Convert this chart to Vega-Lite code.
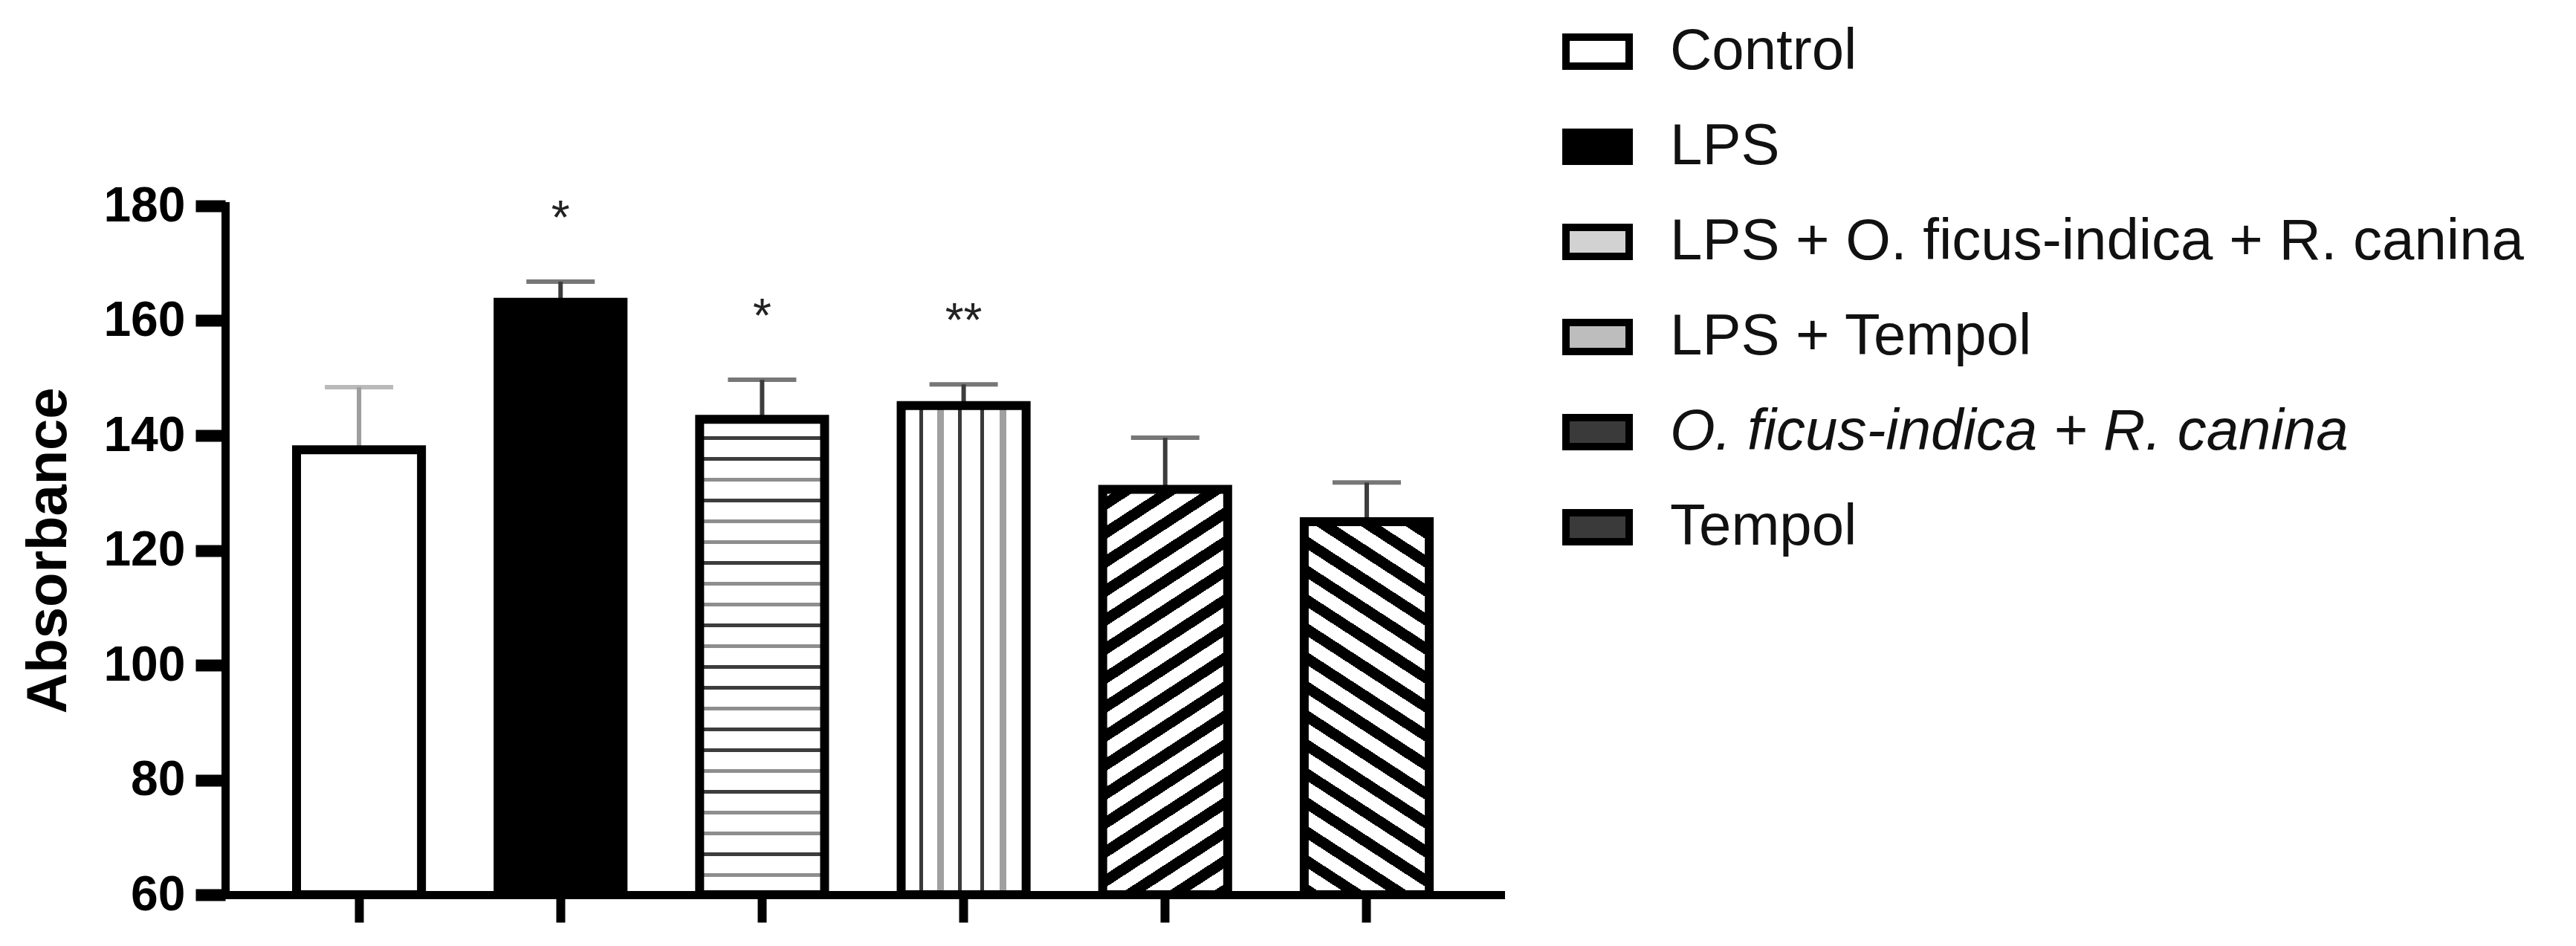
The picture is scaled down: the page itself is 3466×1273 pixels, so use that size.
{
  "$schema": "https://vega.github.io/schema/vega-lite/v6.json",
  "width": 1716,
  "height": 927,
  "autosize": {"type": "none"},
  "padding": {"left": 303, "top": 277, "right": 1447, "bottom": 69},
  "background": "white",
  "config": {"view": {"stroke": null}, "font": "Liberation Sans"},
  "data": {
    "values": [
      {"group": "Control", "mean": 137.5, "upper": 148.4, "sig": ""},
      {"group": "LPS", "mean": 163.2, "upper": 166.8, "sig": "*"},
      {"group": "LPS + O. ficus-indica + R. canina", "mean": 142.8, "upper": 149.7, "sig": "*"},
      {"group": "LPS + Tempol", "mean": 145.2, "upper": 148.9, "sig": "**"},
      {"group": "O. ficus-indica + R. canina", "mean": 130.6, "upper": 139.6, "sig": ""},
      {"group": "Tempol", "mean": 125.0, "upper": 131.8, "sig": ""}
    ]
  },
  "encoding": {
    "x": {
      "field": "group",
      "type": "nominal",
      "sort": null,
      "scale": {"paddingInner": 0.38, "paddingOuter": 0.354},
      "axis": {
        "labels": false,
        "title": null,
        "domainColor": "black",
        "domainWidth": 11,
        "domainCap": "square",
        "tickColor": "black",
        "tickWidth": 12,
        "tickSize": 37
      }
    },
    "y": {
      "field": "mean",
      "type": "quantitative",
      "title": "Absorbance",
      "scale": {"domain": [60, 180], "nice": false, "zero": false},
      "axis": {
        "values": [60, 80, 100, 120, 140, 160, 180],
        "grid": false,
        "labelFont": "Liberation Sans",
        "labelFontWeight": "bold",
        "labelFontSize": 66,
        "labelColor": "black",
        "labelPadding": 14,
        "labelFlush": false,
        "labelOverlap": false,
        "tickSize": 40,
        "tickWidth": 16,
        "tickColor": "black",
        "domainColor": "black",
        "domainWidth": 11,
        "domainCap": "square",
        "titleFont": "Liberation Sans",
        "titleFontWeight": "bold",
        "titleFontSize": 76,
        "titleColor": "black",
        "titlePadding": 34
      }
    }
  },
  "layer": [
    {
      "mark": {"type": "rule", "strokeWidth": 6},
      "encoding": {
        "y2": {"field": "upper"},
        "color": {"condition": {"test": "datum.group === 'Control'", "value": "#9d9d9d"}, "value": "#3d3d3d"}
      }
    },
    {
      "mark": {"type": "tick", "size": 92, "thickness": 6},
      "encoding": {
        "y": {"field": "upper", "type": "quantitative", "title": "Absorbance"},
        "color": {"condition": {"test": "datum.group === 'Control'", "value": "#9d9d9d"}, "value": "#3d3d3d"}
      }
    },
    {
      "mark": {"type": "bar", "stroke": "black", "strokeWidth": 12},
      "encoding": {
        "y2": {"datum": 60},
        "fill": {
          "field": "group",
          "type": "nominal",
          "sort": null,
          "scale": {
            "domain": ["Control", "LPS", "LPS + O. ficus-indica + R. canina", "LPS + Tempol", "O. ficus-indica + R. canina", "Tempol"],
            "range": ["#ffffff", "#000000", "#d2d2d2", "#bdbdbd", "#3a3a3a", "#3a3a3a"]
          },
          "condition": [
            {"test": "datum.group === 'LPS + O. ficus-indica + R. canina'", "value": {"gradient": "linear", "x1": 0, "y1": 0, "x2": 0, "y2": 1, "stops": [
                {"offset": 0, "color": "#ffffff"},
                {"offset": 0.0352, "color": "#ffffff"}, {"offset": 0.0352, "color": "#3d3d3d"}, {"offset": 0.0430, "color": "#3d3d3d"}, {"offset": 0.0430, "color": "#ffffff"},
                {"offset": 0.0789, "color": "#ffffff"}, {"offset": 0.0789, "color": "#3d3d3d"}, {"offset": 0.0867, "color": "#3d3d3d"}, {"offset": 0.0867, "color": "#ffffff"},
                {"offset": 0.1227, "color": "#ffffff"}, {"offset": 0.1227, "color": "#8e8e8e"}, {"offset": 0.1305, "color": "#8e8e8e"}, {"offset": 0.1305, "color": "#ffffff"},
                {"offset": 0.1664, "color": "#ffffff"}, {"offset": 0.1664, "color": "#3d3d3d"}, {"offset": 0.1742, "color": "#3d3d3d"}, {"offset": 0.1742, "color": "#ffffff"},
                {"offset": 0.2102, "color": "#ffffff"}, {"offset": 0.2102, "color": "#8e8e8e"}, {"offset": 0.2180, "color": "#8e8e8e"}, {"offset": 0.2180, "color": "#ffffff"},
                {"offset": 0.2539, "color": "#ffffff"}, {"offset": 0.2539, "color": "#8e8e8e"}, {"offset": 0.2617, "color": "#8e8e8e"}, {"offset": 0.2617, "color": "#ffffff"},
                {"offset": 0.2977, "color": "#ffffff"}, {"offset": 0.2977, "color": "#3d3d3d"}, {"offset": 0.3055, "color": "#3d3d3d"}, {"offset": 0.3055, "color": "#ffffff"},
                {"offset": 0.3414, "color": "#ffffff"}, {"offset": 0.3414, "color": "#8e8e8e"}, {"offset": 0.3492, "color": "#8e8e8e"}, {"offset": 0.3492, "color": "#ffffff"},
                {"offset": 0.3852, "color": "#ffffff"}, {"offset": 0.3852, "color": "#8e8e8e"}, {"offset": 0.3930, "color": "#8e8e8e"}, {"offset": 0.3930, "color": "#ffffff"},
                {"offset": 0.4289, "color": "#ffffff"}, {"offset": 0.4289, "color": "#3d3d3d"}, {"offset": 0.4367, "color": "#3d3d3d"}, {"offset": 0.4367, "color": "#ffffff"},
                {"offset": 0.4727, "color": "#ffffff"}, {"offset": 0.4727, "color": "#8e8e8e"}, {"offset": 0.4805, "color": "#8e8e8e"}, {"offset": 0.4805, "color": "#ffffff"},
                {"offset": 0.5164, "color": "#ffffff"}, {"offset": 0.5164, "color": "#3d3d3d"}, {"offset": 0.5242, "color": "#3d3d3d"}, {"offset": 0.5242, "color": "#ffffff"},
                {"offset": 0.5602, "color": "#ffffff"}, {"offset": 0.5602, "color": "#3d3d3d"}, {"offset": 0.5680, "color": "#3d3d3d"}, {"offset": 0.5680, "color": "#ffffff"},
                {"offset": 0.6039, "color": "#ffffff"}, {"offset": 0.6039, "color": "#8e8e8e"}, {"offset": 0.6117, "color": "#8e8e8e"}, {"offset": 0.6117, "color": "#ffffff"},
                {"offset": 0.6477, "color": "#ffffff"}, {"offset": 0.6477, "color": "#3d3d3d"}, {"offset": 0.6555, "color": "#3d3d3d"}, {"offset": 0.6555, "color": "#ffffff"},
                {"offset": 0.6914, "color": "#ffffff"}, {"offset": 0.6914, "color": "#3d3d3d"}, {"offset": 0.6992, "color": "#3d3d3d"}, {"offset": 0.6992, "color": "#ffffff"},
                {"offset": 0.7352, "color": "#ffffff"}, {"offset": 0.7352, "color": "#8e8e8e"}, {"offset": 0.7430, "color": "#8e8e8e"}, {"offset": 0.7430, "color": "#ffffff"},
                {"offset": 0.7789, "color": "#ffffff"}, {"offset": 0.7789, "color": "#3d3d3d"}, {"offset": 0.7867, "color": "#3d3d3d"}, {"offset": 0.7867, "color": "#ffffff"},
                {"offset": 0.8227, "color": "#ffffff"}, {"offset": 0.8227, "color": "#8e8e8e"}, {"offset": 0.8305, "color": "#8e8e8e"}, {"offset": 0.8305, "color": "#ffffff"},
                {"offset": 0.8664, "color": "#ffffff"}, {"offset": 0.8664, "color": "#8e8e8e"}, {"offset": 0.8742, "color": "#8e8e8e"}, {"offset": 0.8742, "color": "#ffffff"},
                {"offset": 0.9102, "color": "#ffffff"}, {"offset": 0.9102, "color": "#3d3d3d"}, {"offset": 0.9180, "color": "#3d3d3d"}, {"offset": 0.9180, "color": "#ffffff"},
                {"offset": 0.9539, "color": "#ffffff"}, {"offset": 0.9539, "color": "#8e8e8e"}, {"offset": 0.9617, "color": "#8e8e8e"}, {"offset": 0.9617, "color": "#ffffff"},
                {"offset": 1, "color": "#ffffff"}
              ]}},
            {"test": "datum.group === 'LPS + Tempol'", "value": {"gradient": "linear", "x1": 0, "y1": 0, "x2": 1, "y2": 0, "stops": [
                {"offset": 0, "color": "#ffffff"},
                {"offset": 0.146, "color": "#ffffff"}, {"offset": 0.146, "color": "#3a3a3a"}, {"offset": 0.176, "color": "#3a3a3a"}, {"offset": 0.176, "color": "#ffffff"},
                {"offset": 0.288, "color": "#ffffff"}, {"offset": 0.288, "color": "#a0a0a0"}, {"offset": 0.342, "color": "#a0a0a0"}, {"offset": 0.342, "color": "#ffffff"},
                {"offset": 0.455, "color": "#ffffff"}, {"offset": 0.455, "color": "#3a3a3a"}, {"offset": 0.485, "color": "#3a3a3a"}, {"offset": 0.485, "color": "#ffffff"},
                {"offset": 0.634, "color": "#ffffff"}, {"offset": 0.634, "color": "#3a3a3a"}, {"offset": 0.664, "color": "#3a3a3a"}, {"offset": 0.664, "color": "#ffffff"},
                {"offset": 0.788, "color": "#ffffff"}, {"offset": 0.788, "color": "#a0a0a0"}, {"offset": 0.842, "color": "#a0a0a0"}, {"offset": 0.842, "color": "#ffffff"},
                {"offset": 1, "color": "#ffffff"}
              ]}},
            {"test": "datum.group === 'O. ficus-indica + R. canina'", "value": {"gradient": "linear", "x1": 0, "y1": 0, "x2": 0.2313, "y2": 1.1541, "stops": [
                {"offset": 0, "color": "#ffffff"},
                {"offset": 0.0200, "color": "#ffffff"}, {"offset": 0.0200, "color": "#000000"}, {"offset": 0.0468, "color": "#000000"}, {"offset": 0.0468, "color": "#ffffff"},
                {"offset": 0.0796, "color": "#ffffff"}, {"offset": 0.0796, "color": "#000000"}, {"offset": 0.1064, "color": "#000000"}, {"offset": 0.1064, "color": "#ffffff"},
                {"offset": 0.1392, "color": "#ffffff"}, {"offset": 0.1392, "color": "#000000"}, {"offset": 0.1660, "color": "#000000"}, {"offset": 0.1660, "color": "#ffffff"},
                {"offset": 0.1988, "color": "#ffffff"}, {"offset": 0.1988, "color": "#000000"}, {"offset": 0.2256, "color": "#000000"}, {"offset": 0.2256, "color": "#ffffff"},
                {"offset": 0.2584, "color": "#ffffff"}, {"offset": 0.2584, "color": "#000000"}, {"offset": 0.2852, "color": "#000000"}, {"offset": 0.2852, "color": "#ffffff"},
                {"offset": 0.3180, "color": "#ffffff"}, {"offset": 0.3180, "color": "#000000"}, {"offset": 0.3448, "color": "#000000"}, {"offset": 0.3448, "color": "#ffffff"},
                {"offset": 0.3776, "color": "#ffffff"}, {"offset": 0.3776, "color": "#000000"}, {"offset": 0.4044, "color": "#000000"}, {"offset": 0.4044, "color": "#ffffff"},
                {"offset": 0.4372, "color": "#ffffff"}, {"offset": 0.4372, "color": "#000000"}, {"offset": 0.4640, "color": "#000000"}, {"offset": 0.4640, "color": "#ffffff"},
                {"offset": 0.4968, "color": "#ffffff"}, {"offset": 0.4968, "color": "#000000"}, {"offset": 0.5236, "color": "#000000"}, {"offset": 0.5236, "color": "#ffffff"},
                {"offset": 0.5564, "color": "#ffffff"}, {"offset": 0.5564, "color": "#000000"}, {"offset": 0.5832, "color": "#000000"}, {"offset": 0.5832, "color": "#ffffff"},
                {"offset": 0.6160, "color": "#ffffff"}, {"offset": 0.6160, "color": "#000000"}, {"offset": 0.6428, "color": "#000000"}, {"offset": 0.6428, "color": "#ffffff"},
                {"offset": 0.6756, "color": "#ffffff"}, {"offset": 0.6756, "color": "#000000"}, {"offset": 0.7024, "color": "#000000"}, {"offset": 0.7024, "color": "#ffffff"},
                {"offset": 0.7352, "color": "#ffffff"}, {"offset": 0.7352, "color": "#000000"}, {"offset": 0.7620, "color": "#000000"}, {"offset": 0.7620, "color": "#ffffff"},
                {"offset": 0.7948, "color": "#ffffff"}, {"offset": 0.7948, "color": "#000000"}, {"offset": 0.8216, "color": "#000000"}, {"offset": 0.8216, "color": "#ffffff"},
                {"offset": 0.8544, "color": "#ffffff"}, {"offset": 0.8544, "color": "#000000"}, {"offset": 0.8812, "color": "#000000"}, {"offset": 0.8812, "color": "#ffffff"},
                {"offset": 0.9140, "color": "#ffffff"}, {"offset": 0.9140, "color": "#000000"}, {"offset": 0.9408, "color": "#000000"}, {"offset": 0.9408, "color": "#ffffff"},
                {"offset": 0.9736, "color": "#ffffff"}, {"offset": 0.9736, "color": "#000000"}, {"offset": 1, "color": "#000000"}
              ]}},
            {"test": "datum.group === 'Tempol'", "value": {"gradient": "linear", "x1": 1, "y1": 0, "x2": 0.7471, "y2": 1.1625, "stops": [
                {"offset": 0, "color": "#ffffff"},
                {"offset": 0.0150, "color": "#ffffff"}, {"offset": 0.0150, "color": "#000000"}, {"offset": 0.0437, "color": "#000000"}, {"offset": 0.0437, "color": "#ffffff"},
                {"offset": 0.0788, "color": "#ffffff"}, {"offset": 0.0788, "color": "#000000"}, {"offset": 0.1075, "color": "#000000"}, {"offset": 0.1075, "color": "#ffffff"},
                {"offset": 0.1426, "color": "#ffffff"}, {"offset": 0.1426, "color": "#000000"}, {"offset": 0.1713, "color": "#000000"}, {"offset": 0.1713, "color": "#ffffff"},
                {"offset": 0.2064, "color": "#ffffff"}, {"offset": 0.2064, "color": "#000000"}, {"offset": 0.2351, "color": "#000000"}, {"offset": 0.2351, "color": "#ffffff"},
                {"offset": 0.2702, "color": "#ffffff"}, {"offset": 0.2702, "color": "#000000"}, {"offset": 0.2989, "color": "#000000"}, {"offset": 0.2989, "color": "#ffffff"},
                {"offset": 0.3340, "color": "#ffffff"}, {"offset": 0.3340, "color": "#000000"}, {"offset": 0.3627, "color": "#000000"}, {"offset": 0.3627, "color": "#ffffff"},
                {"offset": 0.3978, "color": "#ffffff"}, {"offset": 0.3978, "color": "#000000"}, {"offset": 0.4265, "color": "#000000"}, {"offset": 0.4265, "color": "#ffffff"},
                {"offset": 0.4616, "color": "#ffffff"}, {"offset": 0.4616, "color": "#000000"}, {"offset": 0.4903, "color": "#000000"}, {"offset": 0.4903, "color": "#ffffff"},
                {"offset": 0.5254, "color": "#ffffff"}, {"offset": 0.5254, "color": "#000000"}, {"offset": 0.5541, "color": "#000000"}, {"offset": 0.5541, "color": "#ffffff"},
                {"offset": 0.5892, "color": "#ffffff"}, {"offset": 0.5892, "color": "#000000"}, {"offset": 0.6179, "color": "#000000"}, {"offset": 0.6179, "color": "#ffffff"},
                {"offset": 0.6530, "color": "#ffffff"}, {"offset": 0.6530, "color": "#000000"}, {"offset": 0.6817, "color": "#000000"}, {"offset": 0.6817, "color": "#ffffff"},
                {"offset": 0.7168, "color": "#ffffff"}, {"offset": 0.7168, "color": "#000000"}, {"offset": 0.7455, "color": "#000000"}, {"offset": 0.7455, "color": "#ffffff"},
                {"offset": 0.7806, "color": "#ffffff"}, {"offset": 0.7806, "color": "#000000"}, {"offset": 0.8093, "color": "#000000"}, {"offset": 0.8093, "color": "#ffffff"},
                {"offset": 0.8444, "color": "#ffffff"}, {"offset": 0.8444, "color": "#000000"}, {"offset": 0.8731, "color": "#000000"}, {"offset": 0.8731, "color": "#ffffff"},
                {"offset": 0.9082, "color": "#ffffff"}, {"offset": 0.9082, "color": "#000000"}, {"offset": 0.9369, "color": "#000000"}, {"offset": 0.9369, "color": "#ffffff"},
                {"offset": 0.9720, "color": "#ffffff"}, {"offset": 0.9720, "color": "#000000"}, {"offset": 1, "color": "#000000"}
              ]}}
          ],
          "legend": {
            "orient": "none",
            "legendX": 1799,
            "legendY": -255,
            "title": null,
            "padding": 0,
            "direction": "vertical",
            "symbolType": "M-1,-0.46H1V0.46H-1Z",
            "symbolSize": 7225,
            "symbolStrokeColor": "black",
            "symbolStrokeWidth": 10,
            "symbolOpacity": 1,
            "labelFont": "Liberation Sans",
            "labelFontSize": 78,
            "labelColor": "#111111",
            "labelOffset": 50,
            "labelLimit": 3000,
            "rowPadding": 40,
            "encode": {
              "symbols": {
                "update": {
                  "stroke": {"value": "#000000"},
                  "strokeWidth": {"value": 10}
                }
              },
              "labels": {
                "update": {
                  "fontStyle": {"signal": "datum.value === 'O. ficus-indica + R. canina' ? 'italic' : 'normal'"}
                }
              }
            }
          }
        }
      }
    },
    {
      "mark": {"type": "text", "baseline": "alphabetic", "dy": -64, "fontSize": 64, "color": "#222222", "font": "Liberation Sans"},
      "encoding": {
        "y": {"field": "upper", "type": "quantitative", "title": "Absorbance"},
        "text": {"field": "sig"}
      }
    }
  ]
}
